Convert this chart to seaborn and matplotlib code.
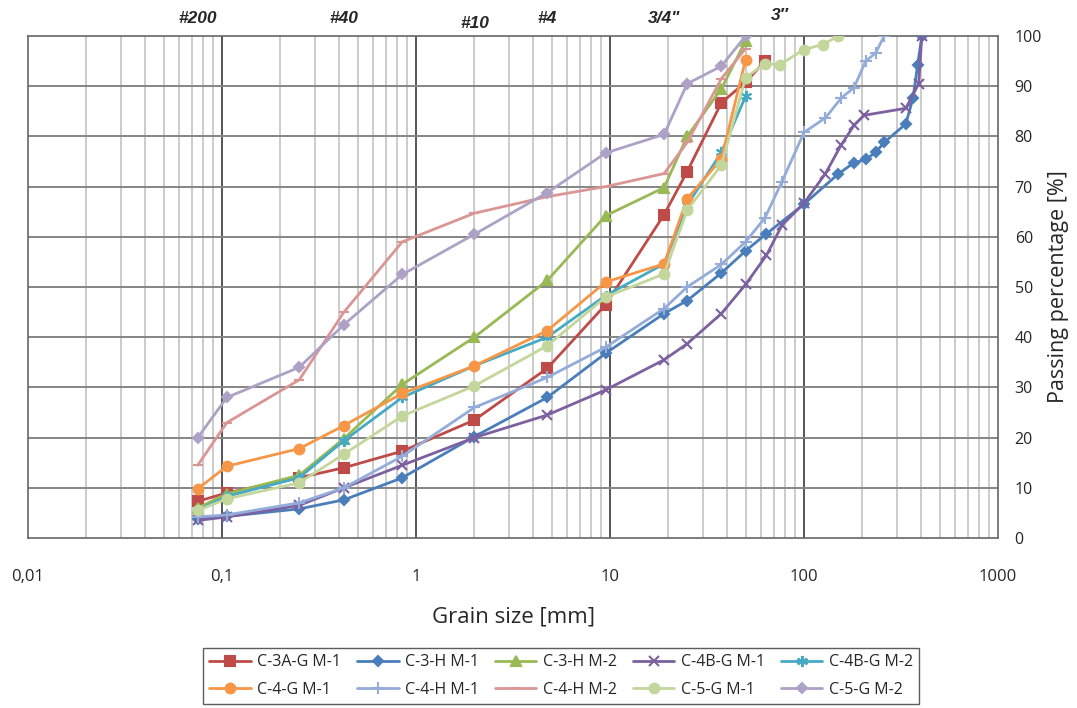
import numpy as np
import pandas as pd
import matplotlib
matplotlib.use("Agg")
import matplotlib.pyplot as plt
import matplotlib.transforms as mtransforms
from matplotlib.ticker import FixedLocator, NullFormatter
import seaborn as sns

# Grain size curves (sieve size in mm, passing %)
c3a_gm1_x = [0.075, 0.106, 0.25, 0.425, 0.85, 2, 4.75, 9.5, 19, 25, 37.5, 50, 63]
c3a_gm1_y = [7.3, 9.0, 12.0, 14.0, 17.3, 23.5, 33.8, 46.5, 64.4, 73.0, 86.7, 90.8, 95.0]

c3_hm1_x = [0.075, 0.106, 0.25, 0.425, 0.85, 2, 4.75, 9.5, 19, 25, 37.5, 50, 64, 100,
            150, 180, 208, 234, 259, 335, 365, 385, 405]
c3_hm1_y = [3.8, 4.3, 5.8, 7.6, 12.0, 20.2, 28.0, 36.8, 44.7, 47.3, 52.8, 57.2, 60.6, 66.5,
            72.5, 74.7, 75.4, 76.8, 78.8, 82.5, 87.7, 94.2, 100.0]

c3_hm2_x = [0.075, 0.106, 0.25, 0.425, 0.85, 2, 4.75, 9.5, 19, 25, 37.5, 50]
c3_hm2_y = [6.0, 8.8, 12.5, 19.8, 30.6, 40.0, 51.3, 64.2, 69.8, 80.0, 89.5, 99.0]

c4b_gm1_x = [0.075, 0.106, 0.25, 0.425, 0.85, 2, 4.75, 9.5, 19, 25, 37.5, 50, 64, 77, 100,
             129, 155, 181, 204, 335, 390, 405]
c4b_gm1_y = [3.5, 4.2, 6.5, 10.0, 14.5, 20.0, 24.5, 29.5, 35.5, 38.7, 44.7, 50.5, 56.3, 62.3, 66.7,
             72.6, 78.2, 82.2, 84.2, 85.6, 90.5, 100.0]

c4b_gm2_x = [0.075, 0.106, 0.25, 0.425, 0.85, 2, 4.75, 9.5, 19, 25, 37.5, 50]
c4b_gm2_y = [5.5, 8.3, 12.0, 19.4, 28.0, 34.3, 40.0, 48.3, 54.6, 66.3, 76.8, 88.0]

c4_gm1_x = [0.075, 0.106, 0.25, 0.425, 0.85, 2, 4.75, 9.5, 19, 25, 37.5, 50]
c4_gm1_y = [9.8, 14.3, 17.8, 22.4, 28.8, 34.3, 41.3, 51.0, 54.6, 67.6, 75.5, 95.3]

c4_hm1_x = [0.075, 0.106, 0.25, 0.425, 0.85, 2, 4.75, 9.5, 19, 25, 37.5, 50, 63, 77, 100,
            129, 156, 181, 208, 234, 259]
c4_hm1_y = [4.2, 4.6, 7.0, 10.0, 16.3, 26.0, 32.0, 38.0, 45.7, 50.0, 54.5, 59.0, 63.8, 71.0, 80.8,
            83.7, 87.7, 89.7, 95.0, 96.6, 100.0]

c4_hm2_x = [0.075, 0.106, 0.25, 0.425, 0.85, 2, 4.75, 9.5, 19, 25, 37.5, 50]
c4_hm2_y = [14.5, 23.0, 31.5, 45.0, 59.0, 64.7, 68.0, 70.0, 72.6, 78.8, 91.5, 97.5]

c5_gm1_x = [0.075, 0.106, 0.25, 0.425, 0.85, 2, 4.75, 9.5, 19, 25, 37.5, 50, 63, 75, 100, 125, 150]
c5_gm1_y = [5.5, 7.8, 11.0, 16.7, 24.3, 30.3, 38.3, 48.0, 52.6, 65.3, 74.3, 91.7, 94.5, 94.3, 97.3, 98.3, 100.0]

c5_gm2_x = [0.075, 0.106, 0.25, 0.425, 0.85, 2, 4.75, 9.5, 19, 25, 37.5, 50]
c5_gm2_y = [20.0, 28.0, 34.0, 42.5, 52.5, 60.5, 68.8, 76.7, 80.4, 90.5, 94.0, 100.0]

names = ["C-3A-G M-1", "C-3-H M-1", "C-3-H M-2", "C-4B-G M-1", "C-4B-G M-2",
         "C-4-G M-1", "C-4-H M-1", "C-4-H M-2", "C-5-G M-1", "C-5-G M-2"]
xs = [c3a_gm1_x, c3_hm1_x, c3_hm2_x, c4b_gm1_x, c4b_gm2_x,
      c4_gm1_x, c4_hm1_x, c4_hm2_x, c5_gm1_x, c5_gm2_x]
ys = [c3a_gm1_y, c3_hm1_y, c3_hm2_y, c4b_gm1_y, c4b_gm2_y,
      c4_gm1_y, c4_hm1_y, c4_hm2_y, c5_gm1_y, c5_gm2_y]

colors = ["#BE4B48", "#4A7EBB", "#98B954", "#7D60A0", "#46AAC5",
          "#F79646", "#93ACDA", "#DA9694", "#C3D69B", "#ADA2C6"]
markers = ["s", "D", "^", "x", (6, 2, 0), "o", "+", "_", "o", "D"]
msizes = [7, 5, 7, 7, 8, 7, 8, 7, 7, 5]

sieve_labels = ["#200", "#40", "#10", "#4", "3/4\"", "3\u2033"]
sieve_sizes = [0.075, 0.425, 2, 4.75, 19, 75]
sieve_dy = [0, 0, -0.01, 0, 0, 0.006]

# long format for seaborn
frames = []
for n, x, y in zip(names, xs, ys):
    frames.append(pd.DataFrame({"size": x, "passing": y, "series": n}))
df = pd.concat(frames, ignore_index=True)

sns.set_style("white")
plt.rcParams["font.family"] = ["Open Sans", "DejaVu Sans"]

fig = plt.figure(figsize=(10.77, 7.08), dpi=100)
ax = fig.add_axes([28 / 1077, 1 - 538 / 708, (998 - 28) / 1077, (538 - 36) / 708])

ax.set_xscale("log")
ax.set_xlim(0.01, 1000)
ax.set_ylim(0, 100)

# grid
minor = [m * 10.0 ** e for e in range(-2, 3) for m in range(2, 10)]
for v in minor:
    ax.axvline(v, color="#c4c4c4", lw=1.2, zorder=0)
for v in [0.1, 1, 10, 100]:
    ax.axvline(v, color="#3a3a3a", lw=1.2, zorder=0)
for v in range(10, 100, 10):
    ax.axhline(v, color="#858585", lw=1.4, zorder=0)

for i, n in enumerate(names):
    sub = df[df["series"] == n]
    sns.lineplot(data=sub, x="size", y="passing", ax=ax, color=colors[i],
                 marker=markers[i], markersize=msizes[i], markeredgecolor=colors[i],
                 markeredgewidth=1.5, linewidth=2.0, label=n, sort=False,
                 estimator=None, zorder=3)

for s in ax.spines.values():
    s.set_color("#666666")
    s.set_linewidth(1.2)

ax.yaxis.tick_right()
ax.yaxis.set_label_position("right")
ax.set_yticks(range(0, 101, 10))
ax.tick_params(axis="y", length=0, labelsize=11.5, pad=12)
ax.xaxis.set_major_locator(FixedLocator([0.01, 0.1, 1, 10, 100, 1000]))
ax.xaxis.set_minor_formatter(NullFormatter())
ax.set_xticklabels(["0,01", "0,1", "1", "10", "100", "1000"])
ax.tick_params(axis="x", which="both", length=0, labelsize=12, pad=22)

ax.set_xlabel("Grain size [mm]", fontsize=16, labelpad=16)
ax.set_ylabel("Passing percentage [%]", fontsize=15.5, labelpad=4)

trans = mtransforms.blended_transform_factory(ax.transData, ax.transAxes)
for lab, s, dy in zip(sieve_labels, sieve_sizes, sieve_dy):
    ax.text(s, 1.035 + dy, lab, transform=trans, ha="center", va="center",
            fontsize=12.5, style="italic", fontweight="semibold", family="Liberation Sans")

# legend filled row by row, like the original
handles, labels = ax.get_legend_handles_labels()
ax.get_legend().remove()
order = [0, 5, 1, 6, 2, 7, 3, 8, 4, 9]
leg = fig.legend([handles[k] for k in order], [labels[k] for k in order], ncol=5, loc="center",
                 bbox_to_anchor=(561 / 1077, 1 - 676 / 708),
                 fontsize=11.5, frameon=True, fancybox=False, edgecolor="#333333",
                 handlelength=2.6, columnspacing=1.0, handletextpad=0.4, borderpad=0.4,
                 labelspacing=0.7)
leg.get_frame().set_linewidth(1.0)

fig.savefig("out.png", dpi=100)
